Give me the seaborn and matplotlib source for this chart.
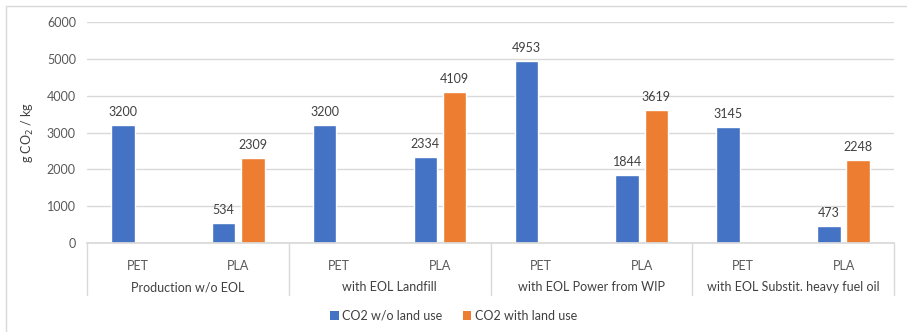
import numpy as np
import pandas as pd
import matplotlib.pyplot as plt
import seaborn as sns
from matplotlib.lines import Line2D
from matplotlib.patches import Patch

groups = ["Production w/o EOL", "with EOL Landfill",
          "with EOL Power from WIP", "with EOL Substit. heavy fuel oil"]
materials = ["PET", "PLA"]
series = ["CO2 w/o land use", "CO2 with land use"]
co2_without_land = [3200, 534, 3200, 2334, 4953, 1844, 3145, 473]
co2_with_land = [np.nan, 2309, np.nan, 4109, np.nan, 3619, np.nan, 2248]

colors = ["#4472C4", "#ED7D31"]
text_col = "#595959"
grid_col = "#d9d9d9"

keys = [f"{g}|{m}" for g in groups for m in materials]
df = pd.DataFrame({
    "key": keys * 2,
    "series": [series[0]] * len(keys) + [series[1]] * len(keys),
    "value": co2_without_land + co2_with_land,
})

sns.set_theme(style="white")
plt.rcParams["font.family"] = ["Lato", "DejaVu Sans"]

fig = plt.figure(figsize=(9.07, 3.32), dpi=100)
ax = fig.add_axes([87 / 907, 1 - 243 / 332, (894 - 87) / 907, (243 - 22) / 332])

sns.barplot(data=df, x="key", y="value", hue="series", order=keys,
            hue_order=series, palette=colors, width=0.58, gap=0.2,
            saturation=1, legend=False, ax=ax)

for cont in ax.containers:
    labels = ["" if np.isnan(v) else f"{v:.0f}" for v in cont.datavalues]
    ax.bar_label(cont, labels=labels, padding=5, fontsize=9, color="#404040")

ax.set_xlim(-0.5, len(keys) - 0.5)
ax.set_ylim(0, 6000)
ax.set_yticks(np.arange(0, 6001, 1000))
ax.yaxis.grid(True, color=grid_col, linewidth=1)
ax.set_axisbelow(True)
for s in ["top", "right", "left"]:
    ax.spines[s].set_visible(False)
ax.spines["bottom"].set_color(grid_col)
ax.tick_params(axis="both", length=0, labelsize=9, colors=text_col, pad=8)
ax.tick_params(axis="x", pad=12)
ax.set_xticks(range(len(keys)))
ax.set_xticklabels([k.split("|")[1] for k in keys])
ax.set_xlabel("")
ax.set_ylabel("g CO$_2$ / kg", fontsize=9, color="#404040", labelpad=8)

trans = ax.get_xaxis_transform()
for b in np.arange(-0.5, len(keys), 2):
    ax.add_line(Line2D([b, b], [0, -52 / 221], transform=trans,
                       color=grid_col, linewidth=1, clip_on=False))
for i, g in enumerate(groups):
    ax.text(2 * i + 0.5, -44 / 221, g, transform=trans, ha="center",
            va="center", fontsize=9, color="#404040")

handles = [Patch(facecolor=c, edgecolor="none") for c in colors]
fig.legend(handles, series, loc="center", bbox_to_anchor=(0.5, 1 - 316 / 332),
           ncol=2, frameon=False, fontsize=9, handlelength=0.7,
           handleheight=0.7, handletextpad=0.3, columnspacing=1.6,
           labelcolor="#404040")

fig.add_artist(Line2D([6 / 907, 6 / 907], [0, 1 - 6 / 332], color=grid_col,
                      linewidth=1, transform=fig.transFigure))
fig.add_artist(Line2D([6 / 907, 1], [1 - 6 / 332, 1 - 6 / 332], color=grid_col,
                      linewidth=1, transform=fig.transFigure))

fig.savefig("out.png", dpi=100)
